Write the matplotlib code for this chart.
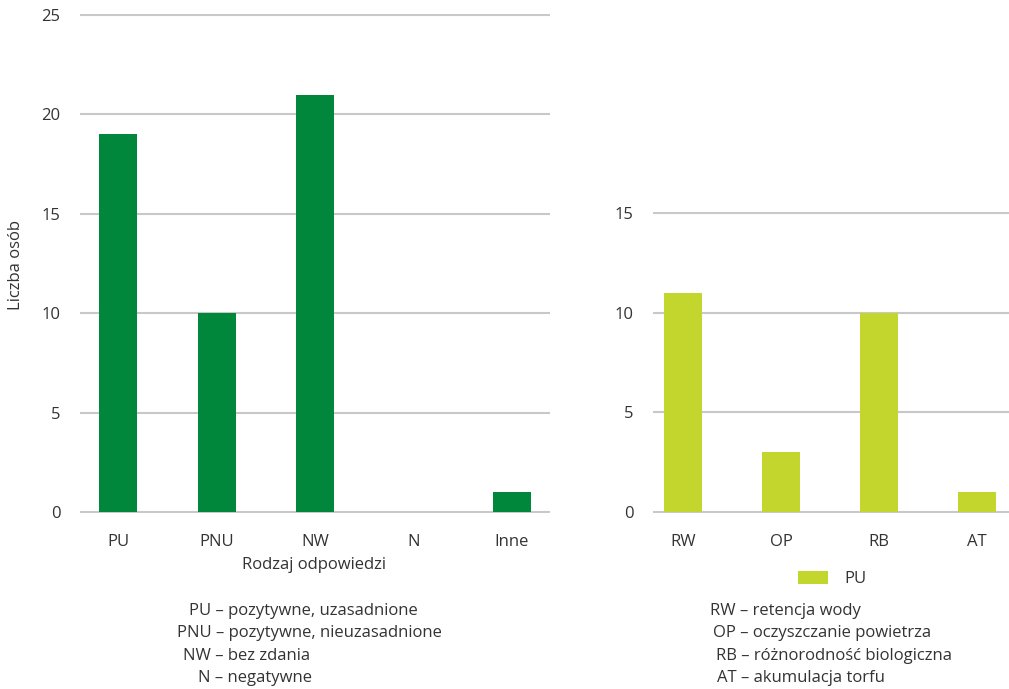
import matplotlib
matplotlib.use("Agg")
import matplotlib.pyplot as plt

plt.rcParams["font.family"] = ["Open Sans", "DejaVu Sans"]
plt.rcParams["font.size"] = 12
plt.rcParams["text.color"] = "#333333"

# --- dane ---
kategorie_l = ["PU", "PNU", "NW", "N", "Inne"]
wartosci_l = [19, 10, 21, 0, 1]

kategorie_p = ["RW", "OP", "RB", "AT"]
wartosci_p = [11, 3, 10, 1]

opis_l = ["PU – pozytywne, uzasadnione",
          "PNU – pozytywne, nieuzasadnione",
          "NW – bez zdania",
          "N – negatywne"]
opis_p = ["RW – retencja wody",
          "OP – oczyszczanie powietrza",
          "RB – różnorodność biologiczna",
          "AT – akumulacja torfu"]

ZIELONY = "#00873c"
LIMONKA = "#c2d62e"
SIATKA = "#c8c8c8"
W, H = 1009, 689


def px(x0, y0, x1, y1):
    # prostokat w pikselach (od gory) -> wspolrzedne figury
    return [x0 / W, 1 - y1 / H, (x1 - x0) / W, (y1 - y0) / H]


def styl(ax, ymax, krok):
    for s in ax.spines.values():
        s.set_visible(False)
    ax.set_yticks(range(0, ymax + 1, krok))
    ax.grid(axis="y", color=SIATKA, linewidth=1.5)
    ax.set_axisbelow(True)
    ax.tick_params(axis="both", length=0, colors="#333333", labelsize=12)
    ax.tick_params(axis="y", pad=14)
    ax.tick_params(axis="x", pad=15)


fig = plt.figure(figsize=(W / 100, H / 100), dpi=100)

# --- wykres lewy ---
ax1 = fig.add_axes(px(80, 14, 550, 513))
ax1.bar(range(len(kategorie_l)), wartosci_l, width=0.386, color=ZIELONY)
ax1.set_xticks(range(len(kategorie_l)))
ax1.set_xticklabels(kategorie_l)
ax1.set_xlim(-0.386, 4.386)
ax1.set_ylim(-0.05, 25.05)
styl(ax1, 25, 5)
fig.text(16 / W, 1 - 265 / H, "Liczba osób", rotation=90, ha="center", va="center")
fig.text(314 / W, 1 - 565 / H, "Rodzaj odpowiedzi", ha="center", va="center")

# --- wykres prawy ---
ax2 = fig.add_axes(px(653, 212, 1009, 513))
ax2.bar(range(len(kategorie_p)), wartosci_p, width=0.388, color=LIMONKA, label="PU")
ax2.set_xticks(range(len(kategorie_p)))
ax2.set_xticklabels(kategorie_p)
ax2.set_xlim(-0.306, 3.327)
ax2.set_ylim(-0.05, 15.05)
styl(ax2, 15, 5)
ax2.legend(loc="center", bbox_to_anchor=(832 / W, 1 - 579 / H),
           bbox_transform=fig.transFigure, frameon=False,
           handlelength=1.8, handleheight=0.8, handletextpad=1.0)

# --- objasnienia skrotow ---
for txt, x, y in zip(opis_l, [189, 177, 183, 198], [611, 633, 656, 678]):
    fig.text(x / W, 1 - y / H, txt, ha="left", va="center")
for txt, x, y in zip(opis_p, [710, 713, 716, 717], [611, 633, 656, 678]):
    fig.text(x / W, 1 - y / H, txt, ha="left", va="center")

fig.savefig("out.png", dpi=100)
